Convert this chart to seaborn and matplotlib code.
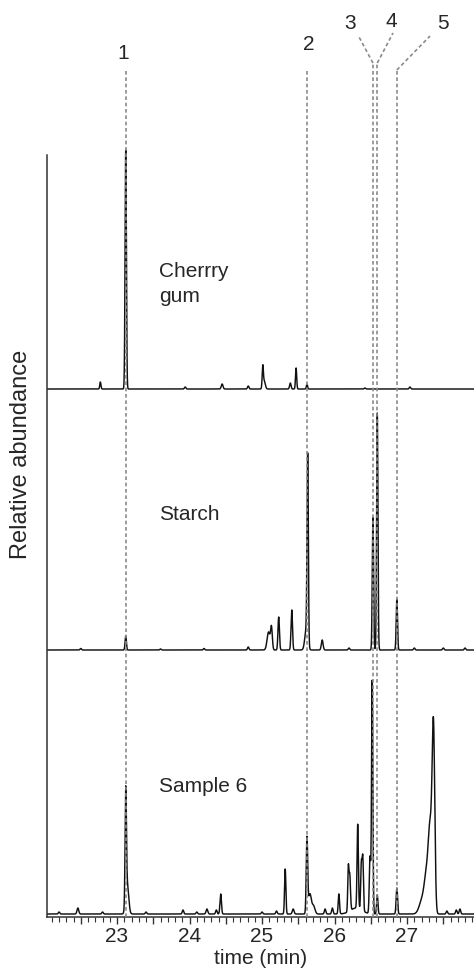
import numpy as np
import pandas as pd
import matplotlib
matplotlib.use("Agg")
import matplotlib.pyplot as plt
from matplotlib.ticker import MultipleLocator, FuncFormatter
import seaborn as sns

# ---------------- data (peak tables) ----------------
samples = ["Cherrry\ngum", "Starch", "Sample 6"]

cherry_times = [22.77, 23.12, 23.94, 24.45, 24.81, 25.01, 25.03, 25.39, 25.47, 25.62, 26.42, 27.04]
cherry_heights = [7, 239, 2, 5, 3, 21, 8, 6, 21, 5, 1, 2]
cherry_widths = [0.008, 0.009, 0.01, 0.012, 0.01, 0.008, 0.015, 0.01, 0.008, 0.008, 0.01, 0.01]

starch_times = [22.5, 23.12, 23.6, 24.2, 24.81, 25.09, 25.13, 25.23, 25.41, 25.61, 25.63,
                25.83, 26.2, 26.53, 26.59, 26.86, 27.1, 27.5, 27.8]
starch_heights = [1.5, 14, 1, 1.5, 3, 18, 22, 33, 40, 20, 185, 10, 2, 133, 237, 51, 2, 2, 2]
starch_widths = [0.01, 0.009, 0.01, 0.01, 0.01, 0.02, 0.012, 0.01, 0.01, 0.02, 0.009,
                 0.012, 0.01, 0.009, 0.009, 0.009, 0.01, 0.01, 0.01]

sample6_times = [22.20, 22.46, 22.80, 23.12, 23.14, 23.40, 23.91, 24.10, 24.24, 24.37, 24.43,
                 25.00, 25.20, 25.32, 25.43, 25.62, 25.66, 25.71, 25.87, 25.97, 26.06,
                 26.19, 26.21, 26.30, 26.32, 26.37, 26.39, 26.49, 26.52, 26.59, 26.86,
                 27.21, 27.27, 27.32, 27.365, 27.55, 27.68, 27.73]
sample6_heights = [2, 6, 2, 110, 30, 2, 4, 2, 5, 4, 20,
                   2, 3, 45, 5, 75, 20, 8, 5, 6, 20,
                   42, 36, 6, 84, 45, 52, 57, 233, 19, 26,
                   14, 35, 80, 180, 3, 4, 5]
sample6_widths = [0.01, 0.012, 0.01, 0.009, 0.02, 0.01, 0.01, 0.01, 0.012, 0.01, 0.01,
                  0.01, 0.01, 0.009, 0.012, 0.01, 0.02, 0.02, 0.01, 0.01, 0.009,
                  0.008, 0.01, 0.08, 0.009, 0.009, 0.009, 0.01, 0.009, 0.009, 0.01,
                  0.04, 0.03, 0.025, 0.018, 0.01, 0.01, 0.01]

marker_times = [23.12, 25.625, 26.53, 26.59, 26.86]
marker_labels = ["1", "2", "3", "4", "5"]

# ---------------- layout ----------------
W, H = 474, 968
X_LEFT_PX, X_RIGHT_PX, Y_BOTTOM_PX, Y_TOP_PX = 47, 474, 917, 147
XMIN, XMAX = 22.034, 27.924
offsets = [528, 267, 3]   # vertical stacking of the traces (layout)

t = np.arange(XMIN, XMAX, 0.002)
tables = [(cherry_times, cherry_heights, cherry_widths),
          (starch_times, starch_heights, starch_widths),
          (sample6_times, sample6_heights, sample6_widths)]
frames = []
for name, off, (tt, hh, ww) in zip(samples, offsets, tables):
    y = np.zeros_like(t)
    for c, h, w in zip(tt, hh, ww):
        y += h * np.exp(-0.5 * ((t - c) / w) ** 2)
    frames.append(pd.DataFrame({"time": t, "signal": y + off, "sample": name}))
df = pd.concat(frames, ignore_index=True)

# ---------------- drawing ----------------
sns.set_style("ticks")
plt.rcParams["font.family"] = ["Liberation Sans", "DejaVu Sans"]

fig = plt.figure(figsize=(W / 100, H / 100), dpi=100)
ax = fig.add_axes([X_LEFT_PX / W, (H - Y_BOTTOM_PX) / H,
                   (X_RIGHT_PX - X_LEFT_PX) / W, (Y_BOTTOM_PX - Y_TOP_PX) / H])

sns.lineplot(data=df, x="time", y="signal", hue="sample", units="sample",
             estimator=None, palette={s: "#111111" for s in samples},
             legend=False, linewidth=1.05, ax=ax)

ax.set_xlim(XMIN, XMAX)
ax.set_ylim(0, Y_BOTTOM_PX - Y_TOP_PX)

def py(p):  # pixel row -> data y
    return Y_BOTTOM_PX - p

def px(x):  # pixel column -> data x
    return 23 + (x - 117) / 72.5

# sample names
ax.text(px(159), py(284), samples[0], fontsize=15, ha="left", va="center", linespacing=1.45)
ax.text(px(159), py(515), samples[1], fontsize=15, ha="left", va="center")
ax.text(px(159), py(786), samples[2], fontsize=15, ha="left", va="center")

# dashed peak markers with leaders
dash = dict(color="#8a8a8a", lw=1.2, ls=(0, (2.2, 1.6)), clip_on=False, zorder=3)
tops = [py(70), py(70), py(63), py(63), py(70)]
for mt, top in zip(marker_times, tops):
    ax.plot([mt, mt], [0, top], **dash)
ax.plot([marker_times[2], px(359)], [tops[2], py(37)], **dash)
ax.plot([marker_times[3], px(393)], [tops[3], py(33)], **dash)
ax.plot([marker_times[4], px(430)], [tops[4], py(36)], **dash)

label_pos = [(123, 53), (309, 44), (350, 23), (391, 21), (443, 23)]
for lab, (lx, ly) in zip(marker_labels, label_pos):
    ax.text(px(lx), py(ly), lab, fontsize=15, ha="center", va="center", clip_on=False)

# axes styling
for s in ["top", "right"]:
    ax.spines[s].set_visible(False)
ax.spines["left"].set_bounds(0, Y_BOTTOM_PX - 155)
for s in ["left", "bottom"]:
    ax.spines[s].set_color("#333333")
    ax.spines[s].set_linewidth(1.1)
ax.set_yticks([])
ax.xaxis.set_major_locator(MultipleLocator(0.5))
ax.xaxis.set_minor_locator(MultipleLocator(0.1))
ax.xaxis.set_major_formatter(FuncFormatter(lambda v, p: f"{v:.0f}" if abs(v - round(v)) < 1e-6 else ""))
ax.tick_params(axis="x", which="major", length=5, width=1, color="#333333", labelsize=15, pad=2)
ax.tick_params(axis="x", which="minor", length=3.5, width=0.8, color="#333333")
ax.set_xlabel("time (min)", fontsize=15, labelpad=2)
ax.set_ylabel("Relative abundance", fontsize=17)
ax.yaxis.set_label_coords(-0.035, (Y_BOTTOM_PX - 454) / (Y_BOTTOM_PX - Y_TOP_PX))

fig.savefig("out.png", dpi=100)
